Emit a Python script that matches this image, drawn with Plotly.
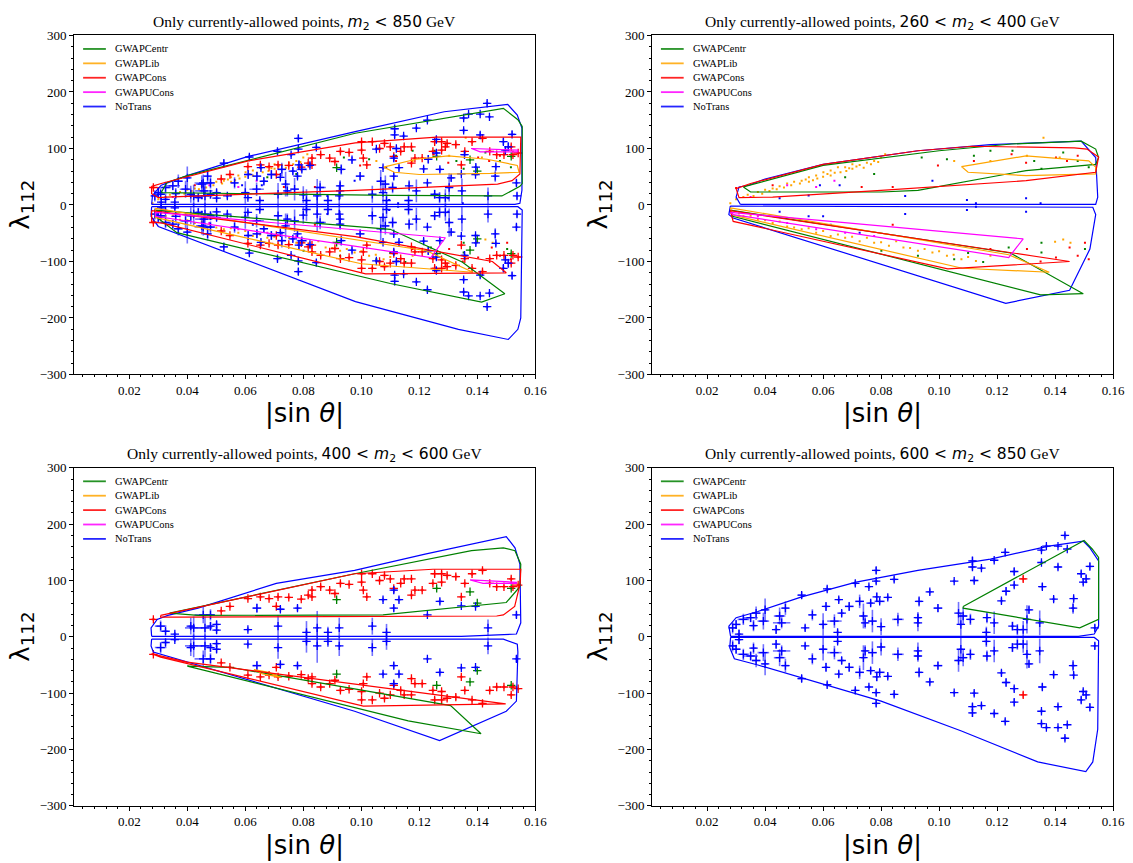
import plotly.graph_objects as go

# ---------------- categories / styles ----------------
CATS = ["GWAPCentr", "GWAPLib", "GWAPCons", "GWAPUCons", "NoTrans"]
COLORS = {"GWAPCentr": "#008000", "GWAPLib": "#FFA500", "GWAPCons": "#FF0000",
          "GWAPUCons": "#FF00FF", "NoTrans": "#0000FF"}
ERR_COLORS = {"GWAPCentr": "rgba(0,128,0,0.55)", "GWAPLib": "rgba(255,165,0,0.55)",
              "GWAPCons": "rgba(255,0,0,0.55)", "GWAPUCons": "rgba(255,0,255,0.55)",
              "NoTrans": "rgba(0,0,255,0.55)"}

X_TICKS = [0.02, 0.04, 0.06, 0.08, 0.10, 0.12, 0.14, 0.16]
X_TICK_LABELS = ["0.02", "0.04", "0.06", "0.08", "0.10", "0.12", "0.14", "0.16"]
Y_TICKS = [300, 200, 100, 0, -100, -200, -300]
Y_TICK_LABELS = ["300", "200", "100", "0", "\u2212100", "\u2212200", "\u2212300"]
MASS_RANGES = ["<i>m</i><sub>2</sub> &lt; 850",
               "260 &lt; <i>m</i><sub>2</sub> &lt; 400",
               "400 &lt; <i>m</i><sub>2</sub> &lt; 600",
               "600 &lt; <i>m</i><sub>2</sub> &lt; 850"]

# ---------------- boundary polygons (|sin theta|, lambda_112) ----------------
# Panel 1 : m2 < 850
p1_notrans_up = [(0.0277, 1), (0.0280, 17), (0.0310, 35), (0.0400, 52), (0.0610, 86), (0.0979, 130),
                 (0.1286, 165), (0.1505, 178), (0.1538, 159), (0.1554, 136), (0.1554, 26), (0.1547, 3),
                 (0.1530, 1), (0.0277, 1)]
p1_notrans_lo = [(0.0277, -3), (0.0275, -20), (0.0300, -38), (0.0980, -171), (0.1335, -220), (0.1507, -238),
                 (0.1540, -220), (0.1550, -200), (0.1555, -9), (0.1540, -3), (0.0277, -3)]
p1_centr_up = [(0.0310, 22), (0.0330, 40), (0.0400, 52), (0.0979, 127), (0.1490, 171), (0.1540, 151),
               (0.1555, 139), (0.1555, 38), (0.1547, 33), (0.1485, 16), (0.1100, 17), (0.0364, 21), (0.0310, 22)]
p1_centr_lo = [(0.0290, -9), (0.1100, -43), (0.1348, -101), (0.1495, -157), (0.1415, -172), (0.1100, -139),
               (0.0364, -49), (0.0290, -20), (0.0290, -9)]
p1_cons_up = [(0.0277, 33), (0.0310, 38), (0.0610, 78), (0.0979, 110), (0.1260, 120), (0.1550, 120),
              (0.1547, 55), (0.1520, 43), (0.1470, 37), (0.0979, 26), (0.0327, 14), (0.0300, 13),
              (0.0277, 20), (0.0277, 33)]
p1_cons_lo = [(0.0277, -10), (0.0979, -56), (0.1452, -100), (0.1500, -120), (0.1015, -122), (0.0314, -32),
              (0.0277, -30), (0.0277, -10)]
p1_lib_up = [(0.1077, 67), (0.1188, 81), (0.1300, 87), (0.1434, 81), (0.1538, 70), (0.1544, 58),
             (0.1446, 56), (0.1200, 54), (0.1114, 58), (0.1077, 67)]
p1_lib_lo = [(0.0290, -6), (0.1225, -81), (0.1385, -119), (0.1000, -104), (0.0290, -22), (0.0290, -6)]
p1_ucons_up = [(0.1380, 100), (0.1540, 97), (0.1540, 94), (0.1410, 94), (0.1380, 100)]
p1_ucons_lo = [(0.0290, -13), (0.1290, -58), (0.1240, -93), (0.0290, -20), (0.0290, -13)]

# Panel 2 : 260 < m2 < 400
p2_notrans_up = [(0.0315, 1), (0.0300, 14), (0.0310, 32), (0.0344, 35), (0.0400, 46), (0.0600, 72),
                 (0.0927, 96), (0.1177, 107), (0.1490, 113), (0.1520, 96), (0.1540, 84), (0.1547, 14),
                 (0.1540, 1), (0.0315, 1)]
p2_notrans_lo = [(0.0280, -2), (0.0275, -17), (0.0290, -23), (0.1230, -174), (0.1450, -151), (0.1520, -78),
                 (0.1540, -17), (0.1530, -4), (0.0280, -2)]
p2_centr_up = [(0.0325, 32), (0.0600, 70), (0.1000, 96), (0.1250, 108), (0.1490, 113), (0.1540, 99),
               (0.1550, 84), (0.1540, 72), (0.1300, 61), (0.0927, 26), (0.0800, 23), (0.0350, 23), (0.0325, 32)]
p2_centr_lo = [(0.0280, -9), (0.1246, -85), (0.1497, -157), (0.1350, -159), (0.0288, -20), (0.0280, -9)]
p2_cons_up = [(0.0300, 29), (0.0350, 38), (0.0600, 72), (0.0927, 96), (0.1115, 104), (0.1466, 101),
              (0.1510, 99), (0.1550, 85), (0.1540, 58), (0.1300, 43), (0.0800, 26), (0.0426, 14),
              (0.0310, 13), (0.0300, 29)]
p2_cons_lo = [(0.0280, -10), (0.1450, -100), (0.1030, -113), (0.0290, -29), (0.0280, -10)]
p2_lib_up = [(0.1077, 68), (0.1300, 87), (0.1516, 78), (0.1540, 67), (0.1540, 55), (0.1300, 52),
             (0.1100, 58), (0.1077, 68)]
p2_lib_lo = [(0.0280, -5), (0.1240, -88), (0.1380, -119), (0.1080, -112), (0.0290, -18), (0.0280, -5)]
p2_ucons_lo = [(0.0280, -13), (0.1290, -60), (0.1240, -93), (0.0290, -17), (0.0280, -13)]

# Panel 3 : 400 < m2 < 600
p3_notrans_up = [(0.0277, 1), (0.0275, 16), (0.0296, 31), (0.0333, 38), (0.0437, 51), (0.0707, 95),
                 (0.0977, 118), (0.1220, 147), (0.1500, 178), (0.1530, 158), (0.1547, 129), (0.1550, 25),
                 (0.1535, 5), (0.1345, 1), (0.0277, 1)]
p3_notrans_lo = [(0.0277, -4), (0.0275, -16), (0.0283, -27), (0.0437, -50), (0.0977, -132), (0.1270, -184),
                 (0.1500, -132), (0.1535, -114), (0.1540, -27), (0.1538, -13), (0.1490, -4), (0.0277, -4)]
p3_centr_up = [(0.0339, 42), (0.0977, 112), (0.1380, 153), (0.1490, 158), (0.1530, 153), (0.1550, 129),
               (0.1547, 89), (0.1500, 61), (0.1075, 39), (0.0437, 38), (0.0339, 42)]
p3_centr_lo = [(0.0400, -52), (0.0547, -54), (0.1308, -122), (0.1413, -172), (0.1162, -149), (0.0437, -57),
               (0.0400, -52)]
p3_cons_up = [(0.0308, 38), (0.0609, 71), (0.0977, 112), (0.1247, 120), (0.1550, 120), (0.1548, 95),
              (0.1529, 54), (0.1490, 39), (0.1467, 37), (0.0363, 35), (0.0308, 35), (0.0308, 38)]
p3_cons_lo = [(0.0277, -30), (0.0400, -45), (0.1498, -119), (0.1007, -123), (0.0308, -36), (0.0277, -30)]
p3_lib_lo = [(0.0630, -58), (0.0680, -63), (0.0722, -72), (0.0660, -66), (0.0630, -58)]
p3_ucons_up = [(0.1375, 101), (0.1535, 97), (0.1535, 95), (0.1420, 95), (0.1375, 101)]

# Panel 4 : 600 < m2 < 850
p4_notrans_up = [(0.0281, 1), (0.0275, 19), (0.0300, 34), (0.0375, 45), (0.0526, 71), (0.0714, 97),
                 (0.0927, 118), (0.1177, 138), (0.1378, 161), (0.1497, 170), (0.1520, 158), (0.1550, 135),
                 (0.1550, 19), (0.1535, 5), (0.1480, 1), (0.0281, 1)]
p4_notrans_lo = [(0.0281, -1), (0.0278, -19), (0.0294, -39), (0.0375, -50), (0.0800, -114), (0.1077, -167),
                 (0.1340, -222), (0.1506, -239), (0.1530, -222), (0.1547, -164), (0.1550, -7), (0.1535, -1),
                 (0.0281, -1)]
p4_centr_up = [(0.1083, 54), (0.1500, 171), (0.1528, 156), (0.1550, 141), (0.1550, 31), (0.1485, 16),
               (0.1083, 51), (0.1083, 54)]

# ---------------- allowed points ----------------
# points with uncertainties: (|sin theta|, lambda_112, err_x, err_y); upper half read off,
# lower half is the (visible) mirror image lambda -> -lambda
pts4_notrans = [
    (0.1434, 180, 0.0008, 5), (0.1353, 154, 0.0006, 4), (0.1370, 161, 0.0006, 3), (0.1410, 161, 0.0005, 3),
    (0.1442, 156, 0.0005, 3), (0.1228, 150, 0.0008, 5), (0.1115, 135, 0.0010, 7), (0.1115, 124, 0.0008, 6),
    (0.1146, 122, 0.0006, 4), (0.1190, 136, 0.0006, 4), (0.1410, 124, 0.0010, 5), (0.1520, 125, 0.0010, 6),
    (0.1353, 132, 0.0006, 4), (0.1121, 100, 0.0007, 5), (0.1052, 99, 0.0005, 3), (0.1259, 116, 0.0007, 6),
    (0.1259, 92, 0.0006, 5), (0.1231, 81, 0.0009, 7), (0.1215, 64, 0.0006, 5), (0.1356, 89, 0.0011, 6),
    (0.1395, 67, 0.0006, 5), (0.1464, 68, 0.0005, 5), (0.1462, 51, 0.0008, 10), (0.1490, 112, 0.0007, 6),
    (0.1497, 97, 0.0007, 5), (0.1507, 103, 0.0009, 8), (0.0783, 118, 0.0008, 6), (0.0711, 95, 0.0007, 5),
    (0.0758, 89, 0.0006, 4), (0.0783, 99, 0.0007, 5), (0.0785, 71, 0.0007, 8), (0.0795, 63, 0.0018, 5),
    (0.0845, 102, 0.0008, 5), (0.0823, 70, 0.0007, 5), (0.0614, 85, 0.0008, 5), (0.0526, 74, 0.0013, 6),
    (0.0654, 66, 0.0006, 5), (0.0931, 63, 0.0010, 9), (0.0968, 80, 0.0009, 5), (0.0996, 51, 0.0015, 7),
    (0.0858, 31, 0.0020, 12), (0.0927, 25, 0.0008, 15), (0.1067, 42, 0.0007, 20), (0.1083, 37, 0.0012, 15),
    (0.1108, 31, 0.0010, 10), (0.1165, 34, 0.0005, 10), (0.1190, 25, 0.0006, 20), (0.1253, 19, 0.0005, 8),
    (0.1303, 31, 0.0007, 25), (0.1310, 48, 0.0010, 6), (0.1347, 25, 0.0006, 22), (0.1075, 22, 0.0006, 20),
    (0.1163, 8, 0.0008, 10), (0.1270, 13, 0.0006, 10), (0.1290, 13, 0.0009, 15), (0.1537, 16, 0.0005, 6),
    (0.0288, 16, 0.0012, 10), (0.0300, 22, 0.0015, 8), (0.0325, 31, 0.0020, 10), (0.0350, 34, 0.0025, 8),
    (0.0369, 42, 0.0015, 12), (0.0394, 28, 0.0020, 15), (0.0400, 48, 0.0010, 20), (0.0450, 37, 0.0020, 15),
    (0.0457, 25, 0.0030, 10), (0.0470, 51, 0.0012, 12), (0.0438, 13, 0.0008, 8), (0.0563, 39, 0.0012, 10),
    (0.0538, 16, 0.0005, 5), (0.0600, 22, 0.0010, 20), (0.0610, 54, 0.0008, 8), (0.0639, 28, 0.0025, 12),
    (0.0664, 42, 0.0008, 6), (0.0690, 54, 0.0015, 8), (0.0726, 63, 0.0015, 12), (0.0739, 37, 0.0008, 22),
    (0.0745, 25, 0.0010, 10), (0.0770, 28, 0.0015, 20), (0.0764, 60, 0.0008, 6), (0.0927, 34, 0.0010, 10),
    (0.0310, 5, 0.0008, 8), (0.0360, 20, 0.0010, 10), (0.0650, 8, 0.0005, 5), (0.0800, 18, 0.0006, 15),
]
pts4_cons = [(0.1290, 103, 0.0010, 5)]

pts3_notrans = [
    (0.0308, 19, 0.0020, 10), (0.0325, 10, 0.0008, 6), (0.0357, 5, 0.0005, 4), (0.0412, 19, 0.0008, 15),
    (0.0422, 16, 0.0030, 20), (0.0461, 16, 0.0025, 20), (0.0480, 19, 0.0010, 8), (0.0501, 22, 0.0008, 6),
    (0.0501, 12, 0.0008, 6), (0.0455, 39, 0.0030, 15), (0.0480, 39, 0.0015, 10), (0.0609, 13, 0.0005, 4),
    (0.0640, 51, 0.0015, 8), (0.0721, 49, 0.0010, 5), (0.0780, 51, 0.0008, 5), (0.0713, 19, 0.0006, 20),
    (0.0811, 8, 0.0004, 20), (0.0848, 16, 0.0006, 30), (0.0885, 8, 0.0005, 10), (0.0924, 16, 0.0006, 18),
    (0.1038, 19, 0.0004, 15), (0.1087, 8, 0.0004, 15), (0.1112, 51, 0.0008, 6), (0.1112, 83, 0.0010, 6),
    (0.1130, 66, 0.0008, 5), (0.1075, 66, 0.0005, 4), (0.1271, 63, 0.0008, 5), (0.1437, 16, 0.0005, 15),
    (0.1535, 39, 0.0006, 6), (0.1345, 55, 0.0004, 3), (0.1394, 54, 0.0004, 3), (0.1228, 39, 0.0004, 3),
]
pts3_cons = [
    (0.0283, 31, 0.0006, 3), (0.0517, 46, 0.0006, 3), (0.0547, 54, 0.0006, 3), (0.0609, 68, 0.0006, 3),
    (0.0652, 71, 0.0007, 4), (0.0682, 68, 0.0006, 3), (0.0713, 71, 0.0007, 4), (0.0750, 70, 0.0006, 3),
    (0.0793, 67, 0.0006, 3), (0.0817, 74, 0.0006, 3), (0.0830, 83, 0.0007, 4), (0.0860, 89, 0.0007, 4),
    (0.0891, 83, 0.0006, 3), (0.0928, 95, 0.0007, 4), (0.0958, 93, 0.0006, 3), (0.1001, 112, 0.0006, 3),
    (0.1001, 97, 0.0007, 4), (0.1007, 83, 0.0006, 3), (0.1038, 112, 0.0006, 3), (0.1063, 100, 0.0006, 3),
    (0.1080, 109, 0.0007, 4), (0.1100, 103, 0.0006, 3), (0.1112, 86, 0.0006, 3), (0.1136, 95, 0.0006, 3),
    (0.1148, 103, 0.0007, 4), (0.1173, 103, 0.0006, 3), (0.1185, 83, 0.0006, 3), (0.1210, 83, 0.0006, 3),
    (0.1247, 95, 0.0006, 3), (0.1253, 112, 0.0009, 5), (0.1277, 112, 0.0009, 5), (0.1277, 97, 0.0006, 3),
    (0.1296, 109, 0.0009, 5), (0.1326, 107, 0.0009, 5), (0.1357, 95, 0.0006, 3), (0.1382, 112, 0.0007, 4),
    (0.1418, 118, 0.0007, 4), (0.1443, 95, 0.0006, 3), (0.1467, 89, 0.0006, 3), (0.1492, 89, 0.0006, 3),
    (0.1517, 103, 0.0008, 4), (0.1523, 89, 0.0006, 3), (0.1541, 92, 0.0006, 3), (0.1345, 71, 0.0006, 3),
    (0.1173, 74, 0.0006, 3), (0.1019, 71, 0.0006, 3), (0.0909, 77, 0.0006, 3), (0.0830, 71, 0.0006, 3),
    (0.0707, 54, 0.0006, 3),
]
pts3_centr = [(0.0915, 66, 0.0003, 2), (0.1260, 86, 0.0003, 2), (0.1375, 80, 0.0003, 2),
              (0.1517, 86, 0.0003, 2), (0.1400, 60, 0.0003, 2)]

# small dots (|sin theta|, lambda_112), 260 < m2 < 400
pts2_lib = [
    (0.0280, 3), (0.0300, 10), (0.0325, 14), (0.0340, 18), (0.0360, 16), (0.0375, 23), (0.0390, 20),
    (0.0400, 27), (0.0415, 25), (0.0426, 29), (0.0440, 28), (0.0450, 33), (0.0465, 31), (0.0476, 38),
    (0.0490, 35), (0.0500, 41), (0.0520, 38), (0.0526, 43), (0.0540, 45), (0.0551, 49), (0.0551, 41),
    (0.0565, 44), (0.0576, 52), (0.0580, 47), (0.0600, 50), (0.0601, 58), (0.0615, 55), (0.0626, 61),
    (0.0626, 52), (0.0640, 57), (0.0651, 67), (0.0660, 58), (0.0676, 67), (0.0680, 60), (0.0690, 65),
    (0.0701, 72), (0.0701, 64), (0.0715, 68), (0.0726, 71), (0.0740, 66), (0.0751, 75), (0.0765, 72),
    (0.0776, 78), (0.0790, 76), (0.0800, 84), (0.0814, 90), (0.1052, 78), (0.1177, 78), (0.1303, 87),
    (0.1360, 119), (0.1416, 84),
    (0.0310, -15), (0.0325, -20), (0.0350, -19), (0.0375, -26), (0.0400, -27), (0.0426, -32),
    (0.0450, -29), (0.0476, -38), (0.0500, -40), (0.0526, -43), (0.0550, -41), (0.0576, -49),
    (0.0600, -46), (0.0626, -55), (0.0651, -52), (0.0676, -58), (0.0700, -56), (0.0726, -64),
    (0.0751, -58), (0.0776, -67), (0.0800, -66), (0.0827, -72), (0.0852, -64), (0.0877, -75),
    (0.0900, -76), (0.0927, -81), (0.0950, -78), (0.0977, -84), (0.1000, -82), (0.1027, -90),
    (0.1050, -88), (0.1077, -96), (0.1100, -92), (0.1127, -99), (0.1177, -90), (0.1400, -65),
    (0.1428, -61), (0.1453, -67),
]
pts2_centr = [
    (0.0676, 49), (0.0776, 55), (0.0940, 84), (0.1027, 81), (0.1120, 87), (0.1177, 96), (0.1253, 96),
    (0.1328, 78), (0.1353, 64), (0.1428, 93), (0.1478, 78), (0.1516, 67),
    (0.0801, -81), (0.0927, -90), (0.1052, -96), (0.1100, -85), (0.1152, -101), (0.1240, -75),
    (0.1353, -67), (0.1353, -84), (0.1503, -78),
]
pts2_cons = [
    (0.0300, 30), (0.0426, 35), (0.0733, 32), (0.0840, 32), (0.0996, 70), (0.1120, 78), (0.1250, 90),
    (0.1300, 75), (0.1403, 84), (0.1441, 78), (0.1478, 87),
    (0.0840, -35), (0.1177, -78), (0.1303, -78), (0.1350, -100), (0.1403, -93), (0.1450, -75),
    (0.1478, -90), (0.1503, -67), (0.1516, -96),
]
pts2_notrans = [
    (0.0450, 12), (0.0550, 17), (0.0589, 35), (0.0657, 35), (0.0883, 16), (0.0977, 43), (0.1096, 9),
    (0.1127, 3), (0.1300, 12), (0.1350, 3),
    (0.0450, -12), (0.0550, -20), (0.0600, -20), (0.0626, -35), (0.0726, -49), (0.0883, -16),
    (0.1096, -9), (0.1127, -3), (0.1300, -12),
]
pts2_ucons = [
    (0.0350, 14), (0.0476, 35), (0.0576, 32), (0.0639, 43),
    (0.0325, -14), (0.0375, -20), (0.0476, -32), (0.0576, -43), (0.0676, -49), (0.0776, -55),
]


def mirror(pts):
    return list(pts) + [(x, -y, ex, ey) for (x, y, ex, ey) in pts]


PANEL_POLYS = {
    1: [("NoTrans", p1_notrans_up), ("NoTrans", p1_notrans_lo), ("GWAPCentr", p1_centr_up),
        ("GWAPCentr", p1_centr_lo), ("GWAPLib", p1_lib_up), ("GWAPLib", p1_lib_lo),
        ("GWAPCons", p1_cons_up), ("GWAPCons", p1_cons_lo), ("GWAPUCons", p1_ucons_up),
        ("GWAPUCons", p1_ucons_lo)],
    2: [("NoTrans", p2_notrans_up), ("NoTrans", p2_notrans_lo), ("GWAPCentr", p2_centr_up),
        ("GWAPCentr", p2_centr_lo), ("GWAPLib", p2_lib_up), ("GWAPLib", p2_lib_lo),
        ("GWAPCons", p2_cons_up), ("GWAPCons", p2_cons_lo), ("GWAPUCons", p2_ucons_lo)],
    3: [("NoTrans", p3_notrans_up), ("NoTrans", p3_notrans_lo), ("GWAPCentr", p3_centr_up),
        ("GWAPCentr", p3_centr_lo), ("GWAPLib", p3_lib_lo), ("GWAPCons", p3_cons_up),
        ("GWAPCons", p3_cons_lo), ("GWAPUCons", p3_ucons_up)],
    4: [("NoTrans", p4_notrans_up), ("NoTrans", p4_notrans_lo), ("GWAPCentr", p4_centr_up)],
}

cross3 = {"NoTrans": mirror(pts3_notrans), "GWAPCons": mirror(pts3_cons), "GWAPCentr": mirror(pts3_centr)}
cross4 = {"NoTrans": mirror(pts4_notrans), "GWAPCons": mirror(pts4_cons)}
dots2 = {"GWAPLib": pts2_lib, "GWAPCentr": pts2_centr, "GWAPCons": pts2_cons,
         "NoTrans": pts2_notrans, "GWAPUCons": pts2_ucons}

PANEL_CROSSES = {1: [cross3, cross4], 2: [], 3: [cross3], 4: [cross4]}
PANEL_DOTS = {1: [dots2], 2: [dots2], 3: [], 4: []}

# ---------------- layout geometry (pixels) ----------------
W, H = 1133, 863
BOX = {1: (75, 541, 29, 374), 2: (659, 1125, 29, 374),
       3: (75, 541, 469, 813), 4: (659, 1125, 469, 813)}


def px(x):
    return x / W


def py(y):
    return 1 - y / H


fig = go.Figure()

for p in range(1, 5):
    suf = "" if p == 1 else str(p)
    xa, ya = "x" + suf, "y" + suf
    # dots
    for group in PANEL_DOTS[p]:
        for cat in CATS:
            if cat not in group:
                continue
            pts = group[cat]
            fig.add_trace(go.Scatter(
                x=[a[0] for a in pts], y=[a[1] for a in pts], mode="markers",
                marker=dict(symbol="square", size=2.0, color=COLORS[cat], line=dict(width=0)),
                xaxis=xa, yaxis=ya, showlegend=False, hoverinfo="skip"))
    # crosses with error bars
    for group in PANEL_CROSSES[p]:
        for cat in CATS:
            if cat not in group:
                continue
            pts = group[cat]
            fig.add_trace(go.Scatter(
                x=[a[0] for a in pts], y=[a[1] for a in pts], mode="markers",
                marker=dict(symbol="cross-thin", size=6, color=COLORS[cat],
                            line=dict(color=COLORS[cat], width=1.3)),
                error_x=dict(type="data", array=[a[2] for a in pts], color=ERR_COLORS[cat],
                             thickness=1.6, width=0),
                error_y=dict(type="data", array=[a[3] for a in pts], color=ERR_COLORS[cat],
                             thickness=1.6, width=0),
                xaxis=xa, yaxis=ya, showlegend=False, hoverinfo="skip"))
    # boundary polygons
    for cat, poly in PANEL_POLYS[p]:
        fig.add_trace(go.Scatter(
            x=[a[0] for a in poly], y=[a[1] for a in poly], mode="lines",
            line=dict(color=COLORS[cat], width=1.2),
            xaxis=xa, yaxis=ya, showlegend=False, hoverinfo="skip"))

axis_common = dict(showline=True, linecolor="black", linewidth=1, mirror=True, ticks="outside",
                   ticklen=4, tickwidth=1, tickcolor="black", showgrid=False, zeroline=False,
                   tickfont=dict(family="Liberation Serif", size=13, color="black"))

layout = dict(width=W, height=H, margin=dict(l=0, r=0, t=0, b=0), autosize=False,
              paper_bgcolor="white", plot_bgcolor="white", showlegend=False)

annotations = []
shapes = []
for p in range(1, 5):
    suf = "" if p == 1 else str(p)
    x0, x1, y0, y1 = BOX[p]
    layout["xaxis" + suf] = dict(
        axis_common, domain=[px(x0), px(x1)], anchor="y" + suf, range=[0.001, 0.16],
        tickmode="array", tickvals=X_TICKS, ticktext=X_TICK_LABELS,
        minor=dict(ticks="outside", ticklen=2, tickcolor="black", tickmode="linear", tick0=0, dtick=0.004))
    layout["yaxis" + suf] = dict(
        axis_common, domain=[py(y1), py(y0)], anchor="x" + suf, range=[-300, 300],
        tickmode="array", tickvals=Y_TICKS, ticktext=Y_TICK_LABELS,
        minor=dict(ticks="outside", ticklen=2, tickcolor="black", tickmode="linear", tick0=0, dtick=20))
    cx = (x0 + x1) / 2
    # title
    annotations.append(dict(
        text="Only currently-allowed points, <span style='font-family:DejaVu Sans'>"
             + MASS_RANGES[p - 1] + "</span> GeV",
        x=px(cx), y=py(y0 - 13), xref="paper", yref="paper", xanchor="center", yanchor="middle",
        showarrow=False, font=dict(family="Liberation Serif", size=15.5, color="black")))
    # x label
    annotations.append(dict(
        text="|sin <i>\u03b8</i>|", x=px(cx), y=py(y1 + 40), xref="paper", yref="paper",
        xanchor="center", yanchor="middle", showarrow=False,
        font=dict(family="DejaVu Sans", size=26, color="black")))
    # y label
    annotations.append(dict(
        text="\u03bb<sub>112</sub>", x=px(x0 - 53), y=py((y0 + y1) / 2), xref="paper", yref="paper",
        xanchor="center", yanchor="middle", textangle=-90, showarrow=False,
        font=dict(family="DejaVu Sans", size=26, color="black")))
    # legend
    for i, cat in enumerate(CATS):
        ry = y0 + 13.7 + 14.65 * i
        shapes.append(dict(type="line", xref="paper", yref="paper",
                           x0=px(x0 + 9), x1=px(x0 + 32), y0=py(ry), y1=py(ry),
                           line=dict(color=COLORS[cat], width=1.8), opacity=0.85))
        annotations.append(dict(
            text=cat, x=px(x0 + 39), y=py(ry), xref="paper", yref="paper", xanchor="left",
            yanchor="middle", showarrow=False,
            font=dict(family="Liberation Serif", size=10.5, color="black")))

layout["annotations"] = annotations
layout["shapes"] = shapes
fig.update_layout(**layout)

fig.write_html("out.html")
